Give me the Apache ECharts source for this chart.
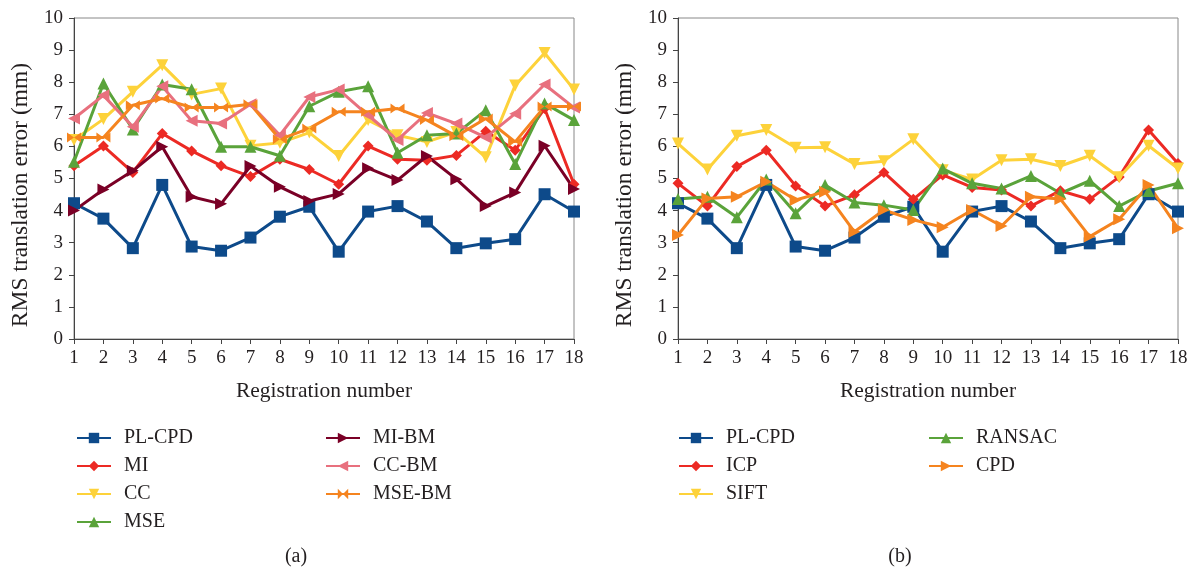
<!DOCTYPE html>
<html>
<head>
<meta charset="utf-8">
<script src="https://cdn.jsdelivr.net/npm/echarts@6/dist/echarts.min.js"></script>
<style>
html,body{margin:0;padding:0;background:#fff;}
#c{width:1193px;height:572px;}
</style>
</head>
<body>
<div id="c"></div>
<script>
// ---- data ----
var categories = ['1','2','3','4','5','6','7','8','9','10','11','12','13','14','15','16','17','18'];
var yTicks = [0,1,2,3,4,5,6,7,8,9,10];

// chart (a)
var plcpd = [4.23,3.75,2.83,4.80,2.88,2.75,3.16,3.81,4.12,2.72,3.97,4.14,3.66,2.83,2.98,3.11,4.51,3.97];
var mi    = [5.40,6.01,5.19,6.40,5.86,5.40,5.06,5.60,5.28,4.82,6.01,5.60,5.57,5.72,6.47,5.88,7.18,4.82];
var cc    = [6.20,6.85,7.70,8.53,7.62,7.80,6.02,6.11,6.43,5.70,6.82,6.35,6.14,6.45,5.66,7.90,8.91,7.77];
var mse   = [5.52,7.96,6.53,7.93,7.78,5.99,5.99,5.71,7.25,7.70,7.87,5.80,6.35,6.40,7.13,5.45,7.34,6.82];
var mibm  = [4.00,4.66,5.24,5.99,4.43,4.21,5.39,4.74,4.30,4.52,5.32,4.95,5.70,4.98,4.14,4.56,6.02,4.67];
var ccbm  = [6.87,7.59,6.61,7.87,6.80,6.71,7.31,6.35,7.54,7.77,6.97,6.20,7.04,6.71,6.28,7.02,7.93,7.21];
var msebm = [6.28,6.28,7.28,7.49,7.21,7.21,7.31,6.22,6.56,7.08,7.08,7.18,6.82,6.32,6.87,6.14,7.24,7.24];

// chart (b)
var icp    = [4.85,4.14,5.37,5.88,4.77,4.14,4.49,5.19,4.35,5.11,4.72,4.64,4.14,4.62,4.35,5.05,6.51,5.47];
var sift   = [6.09,5.28,6.33,6.51,5.96,5.97,5.45,5.54,6.22,5.26,4.97,5.57,5.60,5.39,5.71,5.04,6.02,5.31];
var ransac = [4.36,4.43,3.79,4.97,3.92,4.80,4.25,4.17,4.02,5.31,4.85,4.69,5.08,4.54,4.93,4.14,4.61,4.85];
var cpd    = [3.24,4.38,4.43,4.90,4.33,4.59,3.34,4.02,3.71,3.48,4.02,3.52,4.43,4.36,3.19,3.73,4.80,3.45];

var legendA1 = ['PL-CPD','MI','CC','MSE'];
var legendA2 = ['MI-BM','CC-BM','MSE-BM'];
var legendB1 = ['PL-CPD ','ICP','SIFT'];
var legendB2 = ['RANSAC','CPD'];

// ---- styling ----
var FONT = 'Liberation Serif';
var TXT = '#231f20';
var C = {blue:'#0d4a8a', red:'#ec2a24', yellow:'#fdd23a', green:'#5aa33a', maroon:'#7a0026', pink:'#e8707e', orange:'#f5841f'};
var BOWTIE = 'path://M0,0L5,5L0,10Z M10,0L5,5L10,10Z';

function mkAxes(i){
  return {
    x: {type:'category', gridIndex:i, data:categories, boundaryGap:false,
        axisLine:{lineStyle:{color:'#444',width:1}},
        axisTick:{length:5, lineStyle:{color:'#444'}},
        axisLabel:{color:TXT, fontFamily:FONT, fontSize:19, margin:10}},
    y: {type:'value', gridIndex:i, min:0, max:10, interval:1,
        axisLine:{show:true, lineStyle:{color:'#444',width:1}},
        axisTick:{show:true, length:5, lineStyle:{color:'#444'}},
        splitLine:{show:false},
        axisLabel:{color:TXT, fontFamily:FONT, fontSize:19, margin:11,
                   formatter:function(v){return yTicks.indexOf(v)>=0? String(v):'';}}}
  };
}
var a0 = mkAxes(0), a1 = mkAxes(1);

function ser(name, data, color, symbol, rot, size, gi){
  return {type:'line', name:name, data:data, xAxisIndex:gi, yAxisIndex:gi,
    symbol:symbol, symbolSize:size, symbolRotate:rot, showAllSymbol:true,
    lineStyle:{color:color, width:3}, itemStyle:{color:color}, color:color,
    animation:false};
}

var series = [
  ser('PL-CPD', plcpd, C.blue, 'rect', 0, 12, 0),
  ser('MI', mi, C.red, 'diamond', 0, 11, 0),
  ser('CC', cc, C.yellow, 'triangle', 180, 12, 0),
  ser('MSE', mse, C.green, 'triangle', 0, 12, 0),
  ser('MI-BM', mibm, C.maroon, 'triangle', -90, 12, 0),
  ser('CC-BM', ccbm, C.pink, 'triangle', 90, 12, 0),
  ser('MSE-BM', msebm, C.orange, BOWTIE, 0, [14,10], 0),
  ser('PL-CPD ', plcpd, C.blue, 'rect', 0, 12, 1),
  ser('ICP', icp, C.red, 'diamond', 0, 11, 1),
  ser('SIFT', sift, C.yellow, 'triangle', 180, 12, 1),
  ser('RANSAC', ransac, C.green, 'triangle', 0, 12, 1),
  ser('CPD', cpd, C.orange, 'triangle', -90, 12, 1)
];

function leg(names, left, top){
  return {data:names, orient:'vertical', left:left, top:top, itemWidth:34, itemHeight:13, itemGap:8,
    selectedMode:false, padding:0,
    lineStyle:{width:2},
    textStyle:{color:TXT, fontFamily:FONT, fontSize:20, lineHeight:20, padding:[0,0,0,8]}};
}

var option = {
  backgroundColor:'#fff',
  animation:false,
  grid:[
    {left:74, right:619, top:18, bottom:233, show:true, borderColor:'#888', borderWidth:1},
    {left:678, right:15, top:18, bottom:233, show:true, borderColor:'#888', borderWidth:1}
  ],
  xAxis:[a0.x, a1.x],
  yAxis:[a0.y, a1.y],
  legend:[ leg(legendA1, 76, 428), leg(legendA2, 325, 428), leg(legendB1, 678, 428), leg(legendB2, 928, 428) ],
  series:series,
  graphic:[
    {type:'text', x:21, y:195, rotation:Math.PI/2, style:{text:'RMS translation error (mm)', font:'23.5px "Liberation Serif"', fill:TXT, textAlign:'center', textVerticalAlign:'middle'}},
    {type:'text', x:625, y:195, rotation:Math.PI/2, style:{text:'RMS translation error (mm)', font:'23.5px "Liberation Serif"', fill:TXT, textAlign:'center', textVerticalAlign:'middle'}},
    {type:'text', x:324, y:391, style:{text:'Registration number', font:'21.5px "Liberation Serif"', fill:TXT, textAlign:'center', textVerticalAlign:'middle'}},
    {type:'text', x:928, y:391, style:{text:'Registration number', font:'21.5px "Liberation Serif"', fill:TXT, textAlign:'center', textVerticalAlign:'middle'}},
    {type:'text', x:296, y:557, style:{text:'(a)', font:'20px "Liberation Serif"', fill:TXT, textAlign:'center', textVerticalAlign:'middle'}},
    {type:'text', x:900, y:557, style:{text:'(b)', font:'20px "Liberation Serif"', fill:TXT, textAlign:'center', textVerticalAlign:'middle'}}
  ]
};

var chart = echarts.init(document.getElementById('c'), null, {renderer:'canvas'});
chart.setOption(option);
</script>
</body>
</html>
